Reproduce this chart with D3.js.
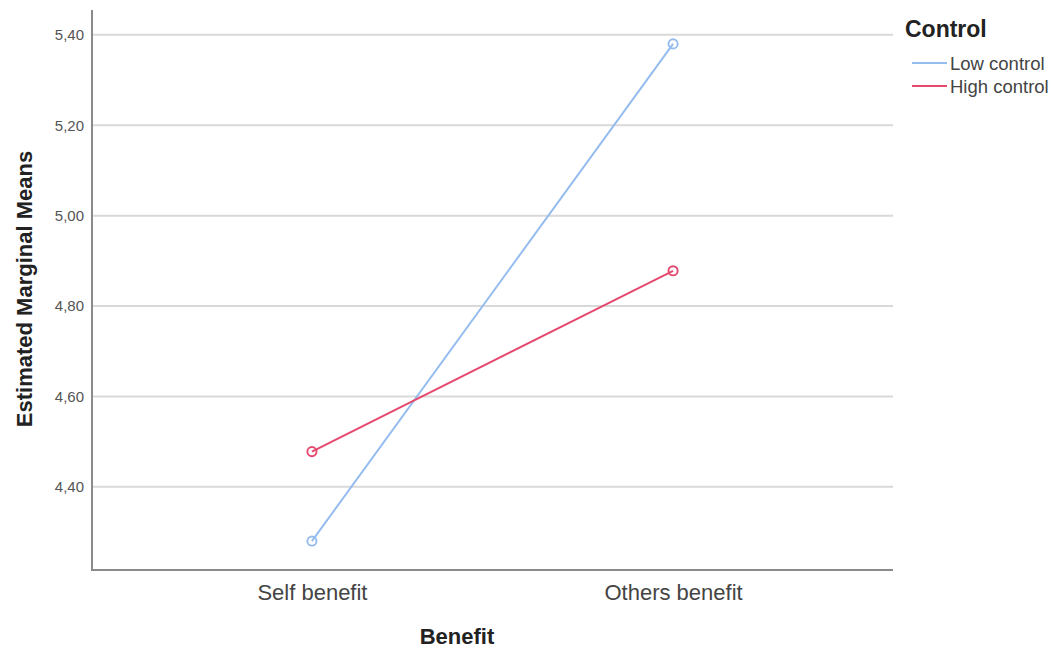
<!DOCTYPE html>
<html><head><meta charset="utf-8">
<script src="https://cdn.jsdelivr.net/npm/d3@7"></script>
<style>body{margin:0;background:#fff;font-family:"Liberation Sans",Arial,sans-serif;}</style>
</head><body>
<svg id="c" width="1051" height="651"></svg>
<script>
const categories = ["Self benefit", "Others benefit"];
const seriesNames = ["Low control", "High control"];
const lowControl = [4.28, 5.38];
const highControl = [4.478, 4.878];
const yTicks = [4.40, 4.60, 4.80, 5.00, 5.20, 5.40];
const colors = ["#94bcef", "#e5496e"];

const svg = d3.select("#c");
const L = 92, R = 893, T = 10, B = 570;
const x = d3.scalePoint().domain(categories).range([L, R]).padding(0.609);
const y = d3.scaleLinear().domain([4.216, 5.455]).range([B, T]);

// gridlines
svg.append("g").selectAll("line").data(yTicks).join("line")
  .attr("x1", L).attr("x2", R).attr("y1", d => y(d)).attr("y2", d => y(d))
  .attr("stroke", "#d9d9d9").attr("stroke-width", 2);

// y axis
const ya = svg.append("g").attr("transform", `translate(${L},0)`)
  .call(d3.axisLeft(y).tickValues(yTicks).tickSize(0).tickPadding(8)
    .tickFormat(d => d3.format(".2f")(d).replace(".", ",")));
ya.select(".domain").remove();
ya.selectAll("text").attr("font-size", 15).attr("fill", "#555").attr("font-family", "Liberation Sans, Arial, sans-serif");

// x axis
const xa = svg.append("g").attr("transform", `translate(0,${B})`)
  .call(d3.axisBottom(x).tickSize(0).tickPadding(14));
xa.select(".domain").remove();
xa.selectAll("text").attr("font-size", 22).attr("fill", "#444").attr("font-family", "Liberation Sans, Arial, sans-serif");

// axis lines
svg.append("line").attr("x1", L).attr("x2", L).attr("y1", T).attr("y2", B + 1).attr("stroke", "#8a8a8a").attr("stroke-width", 2);
svg.append("line").attr("x1", L).attr("x2", R).attr("y1", B).attr("y2", B).attr("stroke", "#8a8a8a").attr("stroke-width", 2);

// series
const series = [lowControl, highControl];
const line = d3.line().x((d, i) => x(categories[i])).y(d => y(d));
series.forEach((s, k) => {
  svg.append("path").attr("d", line(s)).attr("fill", "none").attr("stroke", colors[k]).attr("stroke-width", 2);
  svg.append("g").selectAll("circle").data(s).join("circle")
    .attr("cx", (d, i) => x(categories[i])).attr("cy", d => y(d)).attr("r", 4.6)
    .attr("fill", "none").attr("stroke", colors[k]).attr("stroke-width", 1.9);
});

// axis titles
svg.append("text").attr("x", 457).attr("y", 644).attr("text-anchor", "middle")
  .attr("font-size", 22).attr("font-weight", "bold").attr("fill", "#222").text("Benefit");
svg.append("text").attr("transform", "translate(32,289) rotate(-90)").attr("text-anchor", "middle")
  .attr("font-size", 22).attr("font-weight", "bold").attr("fill", "#222").text("Estimated Marginal Means");

// legend
svg.append("text").attr("x", 905).attr("y", 37).attr("font-size", 23).attr("font-weight", "bold").attr("fill", "#222").text("Control");
seriesNames.forEach((n, k) => {
  const yy = 63 + k * 23;
  svg.append("line").attr("x1", 912).attr("x2", 947).attr("y1", yy).attr("y2", yy).attr("stroke", colors[k]).attr("stroke-width", 2);
  svg.append("text").attr("x", 950).attr("y", yy + 7).attr("font-size", 18.5).attr("fill", "#444").text(n);
});
</script>
</body></html>
